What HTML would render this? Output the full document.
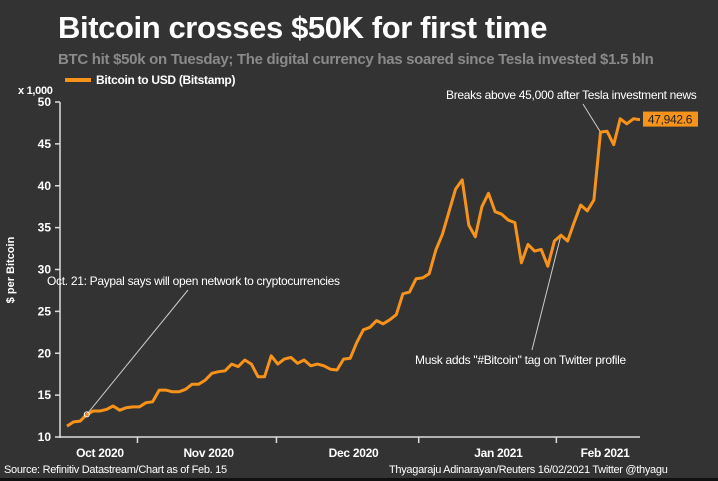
<!DOCTYPE html>
<html><head><meta charset="utf-8"><style>
body{margin:0;background:#333;width:718px;height:481px;overflow:hidden;font-family:"Liberation Sans",sans-serif}
svg{display:block}
</style></head><body>
<svg width="718" height="481">
<rect width="718" height="481" fill="#333"/>
<rect y="478" width="718" height="3" fill="#111"/>
<text x="58" y="38" fill="#fff" font-size="31" font-weight="bold" letter-spacing="-0.4">Bitcoin crosses $50K for first time</text>
<text x="58" y="64" fill="#8a8a8a" font-size="15" font-weight="bold" letter-spacing="-0.3">BTC hit $50k on Tuesday; The digital currency has soared since Tesla invested $1.5 bln</text>
<rect x="65" y="78" width="26" height="4" fill="#f7931a"/>
<text x="96" y="84" fill="#fff" font-size="12" font-weight="bold" letter-spacing="-0.3">Bitcoin to USD (Bitstamp)</text>
<text x="18" y="94" fill="#fff" font-size="11" font-weight="bold" letter-spacing="-0.3">x 1,000</text>
<text transform="translate(14,270) rotate(-90)" text-anchor="middle" fill="#fff" font-size="11" font-weight="bold">$ per Bitcoin</text>
<g id="yaxis"></g>
<g id="xaxis"></g>
<g id="annot"></g>
<g id="series"></g>
<text x="4" y="473" fill="#fff" font-size="11" letter-spacing="-0.3">Source: Refinitiv Datastream/Chart as of Feb. 15</text>
<text x="389" y="473" fill="#fff" font-size="11" letter-spacing="-0.3">Thyagaraju Adinarayan/Reuters 16/02/2021 Twitter @thyagu</text>
</svg>
<script>
const values=[11.3,11.8,11.9,12.7,13.1,13.1,13.3,13.7,13.2,13.5,13.6,13.6,14.1,14.2,15.6,15.6,15.4,15.4,15.7,16.3,16.3,16.8,17.6,17.8,17.9,18.7,18.4,19.2,18.7,17.2,17.2,19.7,18.7,19.3,19.5,18.8,19.2,18.5,18.7,18.5,18.1,18.0,19.3,19.4,21.3,22.8,23.1,23.9,23.5,24.0,24.6,27.1,27.3,28.9,29.0,29.5,32.3,34.2,36.9,39.6,40.7,35.3,33.9,37.5,39.1,36.9,36.6,35.9,35.6,30.8,33.0,32.2,32.4,30.4,33.4,34.1,33.4,35.6,37.7,37.0,38.3,46.4,46.5,44.9,48.0,47.4,48.0,47.9];
const yTicks=[10,15,20,25,30,35,40,45,50];
const monthLabels=["Oct 2020","Nov 2020","Dec 2020","Jan 2021","Feb 2021"];
const monthLabelIdx=[5,21.5,43.5,65.5,81.7];
const monthTickIdx=[10.7,31.8,53.4,74.3];
const lastLabel="47,942.6";
const NS="http://www.w3.org/2000/svg";
const X0=67,X1=640,Y0=437,Y1=102;
const xs=i=>X0+(X1-X0)*i/(values.length-1);
const ys=v=>Y0-(v-10)*(Y0-Y1)/40;
function mk(t,a,p){const e=document.createElementNS(NS,t);for(const k in a)e.setAttribute(k,a[k]);(p||document.querySelector('svg')).appendChild(e);return e;}
const ya=document.getElementById('yaxis'),xa=document.getElementById('xaxis'),an=document.getElementById('annot'),se=document.getElementById('series');
mk('line',{x1:60,y1:ys(50),x2:60,y2:Y0+1,stroke:'#ddd','stroke-width':1.5},ya);
yTicks.forEach(v=>{
 const l=mk('line',{x1:55,x2:60,y1:ys(v),y2:ys(v),stroke:'#ddd','stroke-width':1.5},ya);
 
 
 const t=mk('text',{x:51,y:ys(v)+4,'text-anchor':'end',fill:'#fff','font-size':12,'font-weight':'bold'},ya);
 t.textContent=v;
 
 
});
mk('line',{x1:60,y1:Y0,x2:X1,y2:Y0,stroke:'#ddd','stroke-width':1.5},xa);
monthTickIdx.forEach(i=>{
 const l=mk('line',{x1:xs(i),x2:xs(i),y1:Y0,y2:Y0+6,stroke:'#ddd','stroke-width':1.5},xa);
 
 
});
monthLabels.forEach((m,k)=>{
 const t=mk('text',{x:xs(monthLabelIdx[k]),y:457,'text-anchor':'middle',fill:'#fff','font-size':12,'font-weight':'bold','letter-spacing':'-0.3'},xa);
 t.textContent=m;
 
 
});
const pi=3,mi=75,ti=81;
mk('line',{x1:xs(pi),y1:ys(values[pi]),x2:188,y2:290,stroke:'#ccc','stroke-width':1},an);
mk('line',{x1:xs(mi),y1:ys(values[mi]),x2:532,y2:350,stroke:'#ccc','stroke-width':1},an);
mk('line',{x1:xs(ti),y1:ys(values[ti]),x2:583,y2:104,stroke:'#ccc','stroke-width':1},an);
[["Oct. 21: Paypal says will open network to cryptocurrencies",47,285,'paypal-annotation'],["Musk adds \"#Bitcoin\" tag on Twitter profile",415,364,'musk-annotation'],["Breaks above 45,000 after Tesla investment news",446,99,'tesla-annotation']].forEach(a=>{
 const t=mk('text',{x:a[1],y:a[2],fill:'#fff','font-size':12,'letter-spacing':'-0.3'},an);
 t.textContent=a[0];
 
 
});
const path=mk('path',{d:values.map((v,i)=>(i?'L':'M')+xs(i).toFixed(1)+','+ys(v).toFixed(1)).join(''),fill:'none',stroke:'#f7931a','stroke-width':3,'stroke-linejoin':'round'},se);


const c=mk('circle',{cx:xs(pi),cy:ys(values[pi]),r:2.5,fill:'none',stroke:'#fff','stroke-width':1},se);


const ly=ys(values[values.length-1]);
const r=mk('rect',{x:643,y:ly-8,width:55,height:15,fill:'#f7931a'},se);


const lt=mk('text',{x:670,y:ly+4,'text-anchor':'middle',fill:'#222','font-size':12,'letter-spacing':'-0.3'},se);
lt.textContent=lastLabel;


</script>
</body></html>
